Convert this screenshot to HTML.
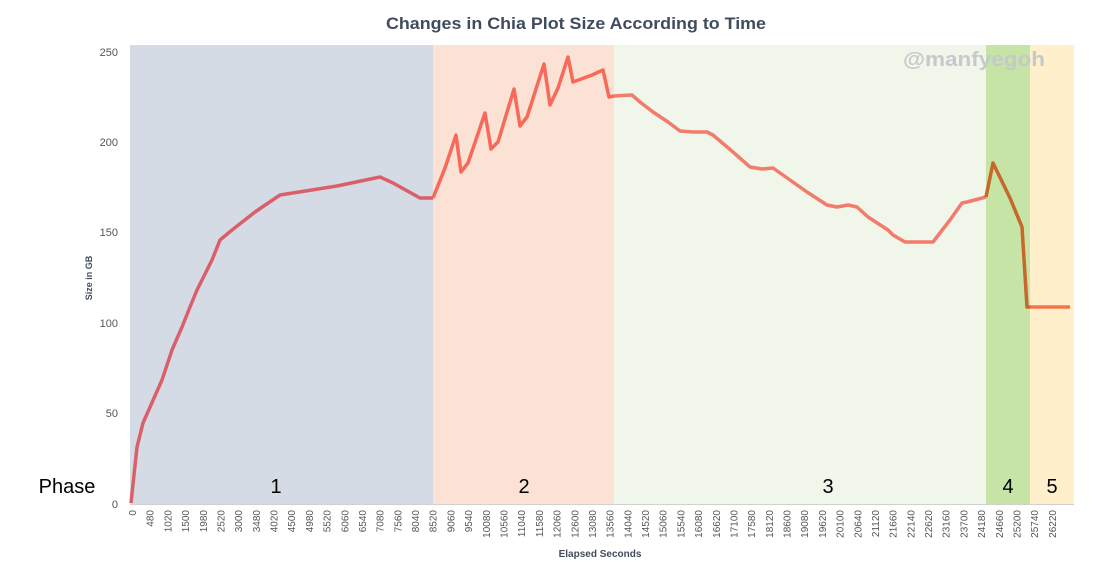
<!DOCTYPE html>
<html><head><meta charset="utf-8"><style>
html,body{margin:0;padding:0;background:#fff;}
svg{display:block;font-family:"Liberation Sans",sans-serif;}
</style></head><body>
<svg width="1119" height="578" viewBox="0 0 1119 578" xmlns="http://www.w3.org/2000/svg">
<rect width="1119" height="578" fill="#fff"/>
<text x="576" y="29" text-anchor="middle" font-size="17" font-weight="bold" fill="#404c5e" textLength="380" lengthAdjust="spacingAndGlyphs">Changes in Chia Plot Size According to Time</text>
<rect x="130" y="45" width="303" height="459" fill="#d5dbe5"/>
<rect x="433" y="45" width="181" height="459" fill="#fbe2d4"/>
<rect x="614" y="45" width="372" height="459" fill="#f0f6ea"/>
<rect x="986" y="45" width="44" height="459" fill="#c6e4a5"/>
<rect x="1030" y="45" width="44" height="459" fill="#fff0cb"/>
<line x1="130" y1="504.5" x2="1074" y2="504.5" stroke="#d0d0d0" stroke-width="1"/>
<text x="974" y="66" text-anchor="middle" font-size="20" font-weight="bold" fill="#c5c8cc" textLength="142" lengthAdjust="spacingAndGlyphs">@manfyegoh</text>
<g font-size="11" fill="#555" text-anchor="end">
<text x="118" y="56">250</text><text x="118" y="146">200</text><text x="118" y="236">150</text><text x="118" y="327">100</text><text x="118" y="417">50</text><text x="118" y="508">0</text>
</g>
<text transform="translate(92,278) rotate(-90)" text-anchor="middle" font-size="9" font-weight="bold" fill="#404c5e">Size in GB</text>
<text x="600" y="557" text-anchor="middle" font-size="10" font-weight="bold" fill="#404c5e">Elapsed Seconds</text>
<g font-size="20" fill="#000" text-anchor="middle">
<text x="67" y="493">Phase</text><text x="276" y="493">1</text><text x="524" y="493">2</text><text x="828" y="493">3</text><text x="1008" y="493">4</text><text x="1052" y="493">5</text>
</g>
<g font-size="10" fill="#555" id="xt"></g>
<polyline fill="none" stroke="#d9606a" stroke-width="3.5" stroke-linejoin="round" points="131,503 137,447 143,423 162,380 172,350 182,327 190,307 197,290 212,260 220,240 232,230 255,212 280,195 337,186 380,177 393,183 420,198 433,198"/>
<polyline fill="none" stroke="#f8695a" stroke-width="3.5" stroke-linejoin="round" points="433,198 437,188 445,168 456,135 461,172 468,163 485,113 491,149 498,142 514,89 520,126 527,117 544,64 550,105 558,88 568,57 573,82 592,75 603,70 609,97 614,96"/>
<polyline fill="none" stroke="#f27b6c" stroke-width="3.5" stroke-linejoin="round" points="614,96 632,95 640,102 653,112 668,122 680,131 693,132 707,132 713,135 733,152 750,167 762,169 773,168 790,180 807,192 827,205 837,207 848,205 857,207 868,217 888,230 893,235 905,242 933,242 950,220 962,203 967,202 986,197"/>
<polyline fill="none" stroke="#c8672b" stroke-width="3.5" stroke-linejoin="round" points="986,197 993,163 1010,198 1022,227 1027,307 1030,307"/>
<polyline fill="none" stroke="#f47448" stroke-width="3.5" points="1030,307 1070,307"/>
<g font-size="10" fill="#555">
<text transform="translate(136,510) rotate(-90)" text-anchor="end">0</text>
<text transform="translate(153.7,510) rotate(-90)" text-anchor="end">480</text>
<text transform="translate(171.4,510) rotate(-90)" text-anchor="end">1020</text>
<text transform="translate(189.1,510) rotate(-90)" text-anchor="end">1500</text>
<text transform="translate(206.8,510) rotate(-90)" text-anchor="end">1980</text>
<text transform="translate(224.5,510) rotate(-90)" text-anchor="end">2520</text>
<text transform="translate(242.1,510) rotate(-90)" text-anchor="end">3000</text>
<text transform="translate(259.8,510) rotate(-90)" text-anchor="end">3480</text>
<text transform="translate(277.5,510) rotate(-90)" text-anchor="end">4020</text>
<text transform="translate(295.2,510) rotate(-90)" text-anchor="end">4500</text>
<text transform="translate(312.9,510) rotate(-90)" text-anchor="end">4980</text>
<text transform="translate(330.6,510) rotate(-90)" text-anchor="end">5520</text>
<text transform="translate(348.3,510) rotate(-90)" text-anchor="end">6060</text>
<text transform="translate(366,510) rotate(-90)" text-anchor="end">6540</text>
<text transform="translate(383.7,510) rotate(-90)" text-anchor="end">7080</text>
<text transform="translate(401.4,510) rotate(-90)" text-anchor="end">7560</text>
<text transform="translate(419,510) rotate(-90)" text-anchor="end">8040</text>
<text transform="translate(436.7,510) rotate(-90)" text-anchor="end">8520</text>
<text transform="translate(454.4,510) rotate(-90)" text-anchor="end">9060</text>
<text transform="translate(472.1,510) rotate(-90)" text-anchor="end">9540</text>
<text transform="translate(489.8,510) rotate(-90)" text-anchor="end">10080</text>
<text transform="translate(507.5,510) rotate(-90)" text-anchor="end">10560</text>
<text transform="translate(525.2,510) rotate(-90)" text-anchor="end">11040</text>
<text transform="translate(542.9,510) rotate(-90)" text-anchor="end">11580</text>
<text transform="translate(560.6,510) rotate(-90)" text-anchor="end">12060</text>
<text transform="translate(578.3,510) rotate(-90)" text-anchor="end">12600</text>
<text transform="translate(595.9,510) rotate(-90)" text-anchor="end">13080</text>
<text transform="translate(613.6,510) rotate(-90)" text-anchor="end">13560</text>
<text transform="translate(631.3,510) rotate(-90)" text-anchor="end">14040</text>
<text transform="translate(649,510) rotate(-90)" text-anchor="end">14520</text>
<text transform="translate(666.7,510) rotate(-90)" text-anchor="end">15060</text>
<text transform="translate(684.4,510) rotate(-90)" text-anchor="end">15540</text>
<text transform="translate(702.1,510) rotate(-90)" text-anchor="end">16080</text>
<text transform="translate(719.8,510) rotate(-90)" text-anchor="end">16620</text>
<text transform="translate(737.5,510) rotate(-90)" text-anchor="end">17100</text>
<text transform="translate(755.2,510) rotate(-90)" text-anchor="end">17580</text>
<text transform="translate(772.8,510) rotate(-90)" text-anchor="end">18120</text>
<text transform="translate(790.5,510) rotate(-90)" text-anchor="end">18600</text>
<text transform="translate(808.2,510) rotate(-90)" text-anchor="end">19080</text>
<text transform="translate(825.9,510) rotate(-90)" text-anchor="end">19620</text>
<text transform="translate(843.6,510) rotate(-90)" text-anchor="end">20100</text>
<text transform="translate(861.3,510) rotate(-90)" text-anchor="end">20640</text>
<text transform="translate(879,510) rotate(-90)" text-anchor="end">21120</text>
<text transform="translate(896.7,510) rotate(-90)" text-anchor="end">21660</text>
<text transform="translate(914.4,510) rotate(-90)" text-anchor="end">22140</text>
<text transform="translate(932.1,510) rotate(-90)" text-anchor="end">22620</text>
<text transform="translate(949.7,510) rotate(-90)" text-anchor="end">23160</text>
<text transform="translate(967.4,510) rotate(-90)" text-anchor="end">23700</text>
<text transform="translate(985.1,510) rotate(-90)" text-anchor="end">24180</text>
<text transform="translate(1002.8,510) rotate(-90)" text-anchor="end">24660</text>
<text transform="translate(1020.5,510) rotate(-90)" text-anchor="end">25200</text>
<text transform="translate(1038.2,510) rotate(-90)" text-anchor="end">25740</text>
<text transform="translate(1055.9,510) rotate(-90)" text-anchor="end">26220</text>
</g>
</svg>
</body></html>
